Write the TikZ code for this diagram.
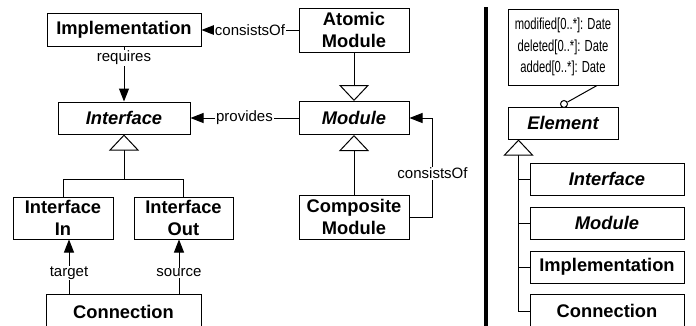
\documentclass[tikz,border=0pt]{standalone}
\usepackage{fontspec}
\setmainfont{Liberation Sans}
\newfontfamily\attrfont[FakeStretch=0.7]{Liberation Sans}
\usetikzlibrary{arrows.meta}
\tikzset{
  cls/.style={draw, line width=1pt, fill=white, inner sep=0pt, align=center,
    font=\fontsize{18.3}{21.5}\selectfont\bfseries},
  abstr/.style={cls, font=\fontsize{18.3}{21.5}\selectfont\bfseries\itshape},
  lbl/.style={fill=white, inner sep=1pt, font=\fontsize{15}{17}\selectfont},
  assoc/.style={line width=1pt, -{Triangle[length=13pt,width=10pt]}},
  gen/.style={line width=1pt, -{Triangle[open,length=16pt,width=30pt,fill=white]}},
  conn/.style={line width=1pt},
}
\begin{document}
\begin{tikzpicture}[x=1pt,y=-1pt]
\clip (0,0) rectangle (696,325);
\fill[white] (0,0) rectangle (696,325);

% ---- metamodel, left part
\node[cls, minimum width=154, minimum height=33] (impl) at (124,30) {Implementation};
\node[cls, minimum width=110, minimum height=44] (atomic) at (354,30) {Atomic\\Module};
\node[abstr, minimum width=132, minimum height=32] (iface) at (124,118) {Interface};
\node[abstr, minimum width=110, minimum height=33] (module) at (354,118) {Module};
\node[cls, minimum width=100, minimum height=42] (inin) at (63,218) {Interface\\In};
\node[cls, minimum width=99, minimum height=42] (inout) at (183.5,218) {Interface\\Out};
\node[cls, minimum width=110, minimum height=44] (comp) at (354,217) {Composite\\Module};
\node[cls, minimum width=155, minimum height=36] (lconn) at (123.5,312) {Connection};

\draw[assoc] (atomic.west) -- node[lbl]{consistsOf} (impl.east);
\draw[assoc] (module.west) -- node[lbl]{provides} (iface.east);
\draw[assoc] (impl.south) -- node[lbl, pos=0.2]{requires} (iface.north);
\draw[assoc] ([xshift=6pt]inin.south |- lconn.north) -- node[lbl, pos=0.38]{target} ([xshift=6pt]inin.south);
\draw[assoc] ([xshift=-4.5pt]inout.south |- lconn.north) -- node[lbl, pos=0.38]{source} ([xshift=-4.5pt]inout.south);
\draw[assoc] (comp.east) -- ++(23,0) |- node[lbl, pos=0.22]{consistsOf} (module.east);

\coordinate (ibar) at (124,179);
\draw[gen] (inin.north) |- (ibar) -- (iface.south);
\draw[conn] (inout.north) |- (ibar);
\draw[gen] (atomic.south) -- (module.north);
\draw[gen] (comp.north) -- (module.south);

% ---- separator
\coordinate (septop) at (486,7);
\coordinate (sepbot) at (486,330);
\draw[line width=4pt] (septop) -- (sepbot);

% ---- element hierarchy, right part
\node[draw, line width=1pt, inner sep=0pt, align=center, minimum width=110, minimum height=76,
  font=\attrfont\fontsize{16}{21.7}\selectfont] (attr) at (563,47)
  {modified[0..*]: Date\\deleted[0..*]: Date\\added[0..*]: Date};
\node[abstr, minimum width=110, minimum height=32] (element) at (563,123) {Element};
\node[circle, draw, line width=1pt, fill=white, inner sep=0pt, minimum size=7] (dot) at (564,104) {};
\draw[conn] ([xshift=34pt]attr.south) -- (dot);

\node[abstr, minimum width=154, minimum height=32] (riface) at (607,179) {Interface};
\node[abstr, minimum width=154, minimum height=32] (rmod) at (607,223) {Module};
\node[cls, minimum width=154, minimum height=32] (rimpl) at (607,267) {Implementation};
\node[cls, minimum width=154, minimum height=34] (rconn) at (607,311) {Connection};

\coordinate (etip) at ([xshift=11pt]element.south west);
\draw[gen] (rconn.west) -| (etip);
\draw[conn] (riface.west) -- (riface.west -| etip);
\draw[conn] (rmod.west) -- (rmod.west -| etip);
\draw[conn] (rimpl.west) -- (rimpl.west -| etip);
\end{tikzpicture}
\end{document}
